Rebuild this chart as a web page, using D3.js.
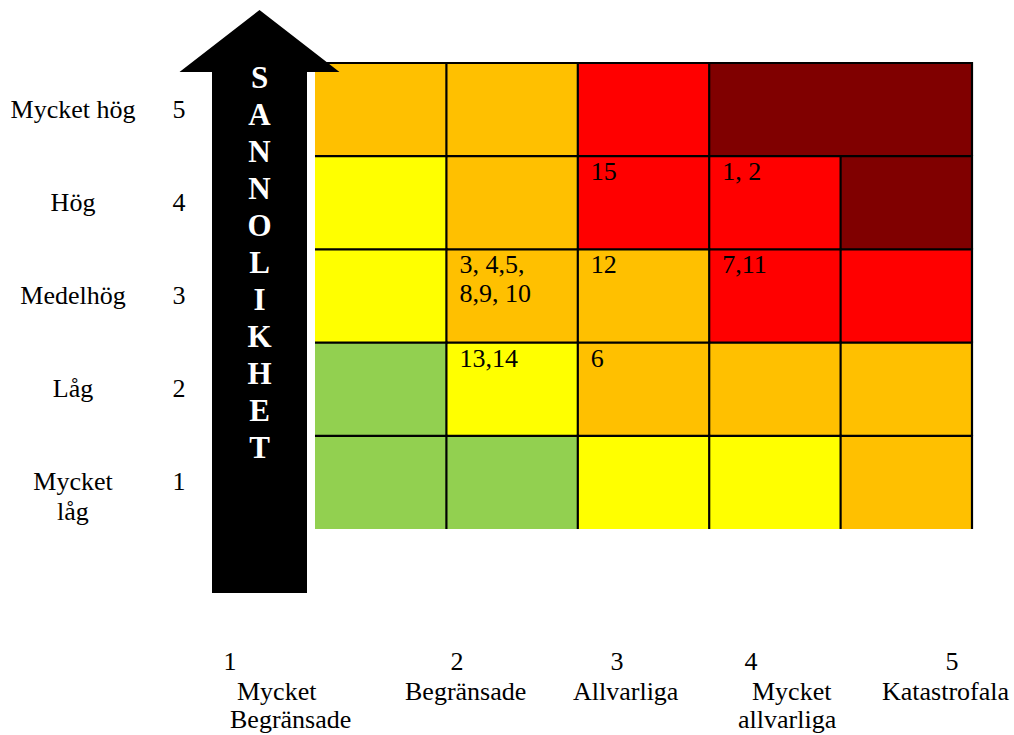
<!DOCTYPE html>
<html>
<head>
<meta charset="utf-8">
<script src="https://cdn.jsdelivr.net/npm/d3@7"></script>
<style>
  html, body { margin: 0; padding: 0; background: #fff; }
  svg { display: block; }
  text { font-family: "Liberation Serif", "Times New Roman", serif; fill: #000; }
</style>
</head>
<body>
<svg id="chart" width="1014" height="735"></svg>
<script>
// ---- data ----
const likelihoodLevels = [5, 4, 3, 2, 1];
const likelihoodLabels = ["Mycket hög", "Hög", "Medelhög", "Låg", "Mycket\nlåg"];
const consequenceLevels = [1, 2, 3, 4, 5];
const consequenceLabels = ["Mycket\nBegränsade", "Begränsade", "Allvarliga", "Mycket\nallvarliga", "Katastrofala"];
const axisTitle = "SANNOLIKHET";
// risk class per cell, rows from likelihood 5 down to 1, columns consequence 1..5
const riskRow5 = ["medium", "medium", "high", "extreme", "extreme"];
const riskRow4 = ["low", "medium", "high", "high", "extreme"];
const riskRow3 = ["low", "medium", "medium", "high", "high"];
const riskRow2 = ["minimal", "low", "medium", "medium", "medium"];
const riskRow1 = ["minimal", "minimal", "low", "low", "medium"];
// risk ids placed in cells: [likelihood, consequence, text]
const riskIds = [
  [4, 3, "15"],
  [4, 4, "1, 2"],
  [3, 2, "3, 4,5,\n8,9, 10"],
  [3, 3, "12"],
  [3, 4, "7,11"],
  [2, 2, "13,14"],
  [2, 3, "6"]
];
// merged cells: [likelihood, fromConsequence, toConsequence]
const mergedCells = [[5, 4, 5]];

// ---- styles / layout ----
const riskColor = d3.scaleOrdinal()
  .domain(["minimal", "low", "medium", "high", "extreme"])
  .range(["#92D050", "#FFFF00", "#FFC000", "#FF0000", "#800000"]);

const grid = { left: 315, right: 972, top: 63, bottom: 529 };
const fontSize = 26;
const arrowCfg = { cx: 259.5, tipY: 10, headY: 72, headHalf: 80, shaftHalf: 47.5, bottom: 593 };
const letterCfg = { firstY: 78, step: 37, size: 31 };
const sideLabelX = 73, sideNumX = 179;
const bottomNumX = [230, 457, 617, 751, 952];
const bottomLabelX = [[237, 230], [405], [573], [752, 738], [882]];
const bottomY = { num: 670, line1: 700, line2: 728 };

const svg = d3.select("#chart");

const x = d3.scaleBand().domain(consequenceLevels).range([grid.left, grid.right]).padding(0);
const y = d3.scaleBand().domain(likelihoodLevels).range([grid.top, grid.bottom]).padding(0);

// build cells
const riskRows = [riskRow5, riskRow4, riskRow3, riskRow2, riskRow1];
const cells = [];
likelihoodLevels.forEach((l, ri) => {
  consequenceLevels.forEach((c, ci) => {
    const m = mergedCells.find(mc => mc[0] === l && c >= mc[1] && c <= mc[2]);
    if (m && c !== m[1]) return;
    const span = m ? (m[2] - m[1] + 1) : 1;
    cells.push({ l, c, span, risk: riskRows[ri][ci] });
  });
});

const cellG = svg.append("g");
cellG.selectAll("rect").data(cells).join("rect")
  .attr("x", d => x(d.c))
  .attr("y", d => y(d.l))
  .attr("width", d => x.bandwidth() * d.span)
  .attr("height", y.bandwidth())
  .attr("fill", d => riskColor(d.risk));

// borders: top and right edge of each cell
const lineG = svg.append("g").attr("stroke", "#000").attr("stroke-width", 2.2);
cells.forEach(d => {
  const x0 = x(d.c), x1 = x(d.c) + x.bandwidth() * d.span;
  const y0 = y(d.l), y1 = y(d.l) + y.bandwidth();
  lineG.append("line").attr("x1", x0).attr("x2", x1 + 1).attr("y1", y0).attr("y2", y0);
  lineG.append("line").attr("x1", x1).attr("x2", x1).attr("y1", y0 - 1).attr("y2", y1);
});

// risk ids in cells
const idG = svg.append("g").style("font-size", fontSize + "px");
riskIds.forEach(([l, c, t]) => {
  const txt = idG.append("text")
    .attr("x", x(c) + 13)
    .attr("y", y(l) + 24);
  t.split("\n").forEach((line, i) => {
    txt.append("tspan").attr("x", x(c) + 13).attr("dy", i === 0 ? 0 : 29).text(line);
  });
});

// arrow
const a = arrowCfg;
const arrowPts = [
  [a.cx, a.tipY],
  [a.cx + a.headHalf, a.headY],
  [a.cx + a.shaftHalf, a.headY],
  [a.cx + a.shaftHalf, a.bottom],
  [a.cx - a.shaftHalf, a.bottom],
  [a.cx - a.shaftHalf, a.headY],
  [a.cx - a.headHalf, a.headY]
];
svg.append("path")
  .attr("d", d3.line()(arrowPts) + "Z")
  .attr("fill", "#000");

svg.append("g").selectAll("text").data(axisTitle.split("")).join("text")
  .attr("x", a.cx)
  .attr("y", (d, i) => letterCfg.firstY + i * letterCfg.step + letterCfg.size * 0.33)
  .attr("text-anchor", "middle")
  .style("font-size", letterCfg.size + "px")
  .style("font-weight", "bold")
  .style("fill", "#fff")
  .text(d => d);

// side labels
const sideG = svg.append("g").style("font-size", fontSize + "px");
likelihoodLevels.forEach((l, i) => {
  const cy = y(l) + y.bandwidth() / 2 + 8;
  const t = sideG.append("text").attr("x", sideLabelX).attr("y", cy).attr("text-anchor", "middle");
  likelihoodLabels[i].split("\n").forEach((line, j) => {
    t.append("tspan").attr("x", sideLabelX).attr("dy", j === 0 ? 0 : 30).text(line);
  });
  sideG.append("text").attr("x", sideNumX).attr("y", cy).attr("text-anchor", "middle").text(l);
});

// bottom labels
const botG = svg.append("g").style("font-size", fontSize + "px");
consequenceLevels.forEach((c, i) => {
  botG.append("text").attr("x", bottomNumX[i]).attr("y", bottomY.num).attr("text-anchor", "middle").text(c);
  consequenceLabels[i].split("\n").forEach((line, j) => {
    botG.append("text")
      .attr("x", bottomLabelX[i][j])
      .attr("y", j === 0 ? bottomY.line1 : bottomY.line2)
      .text(line);
  });
});
</script>
</body>
</html>
